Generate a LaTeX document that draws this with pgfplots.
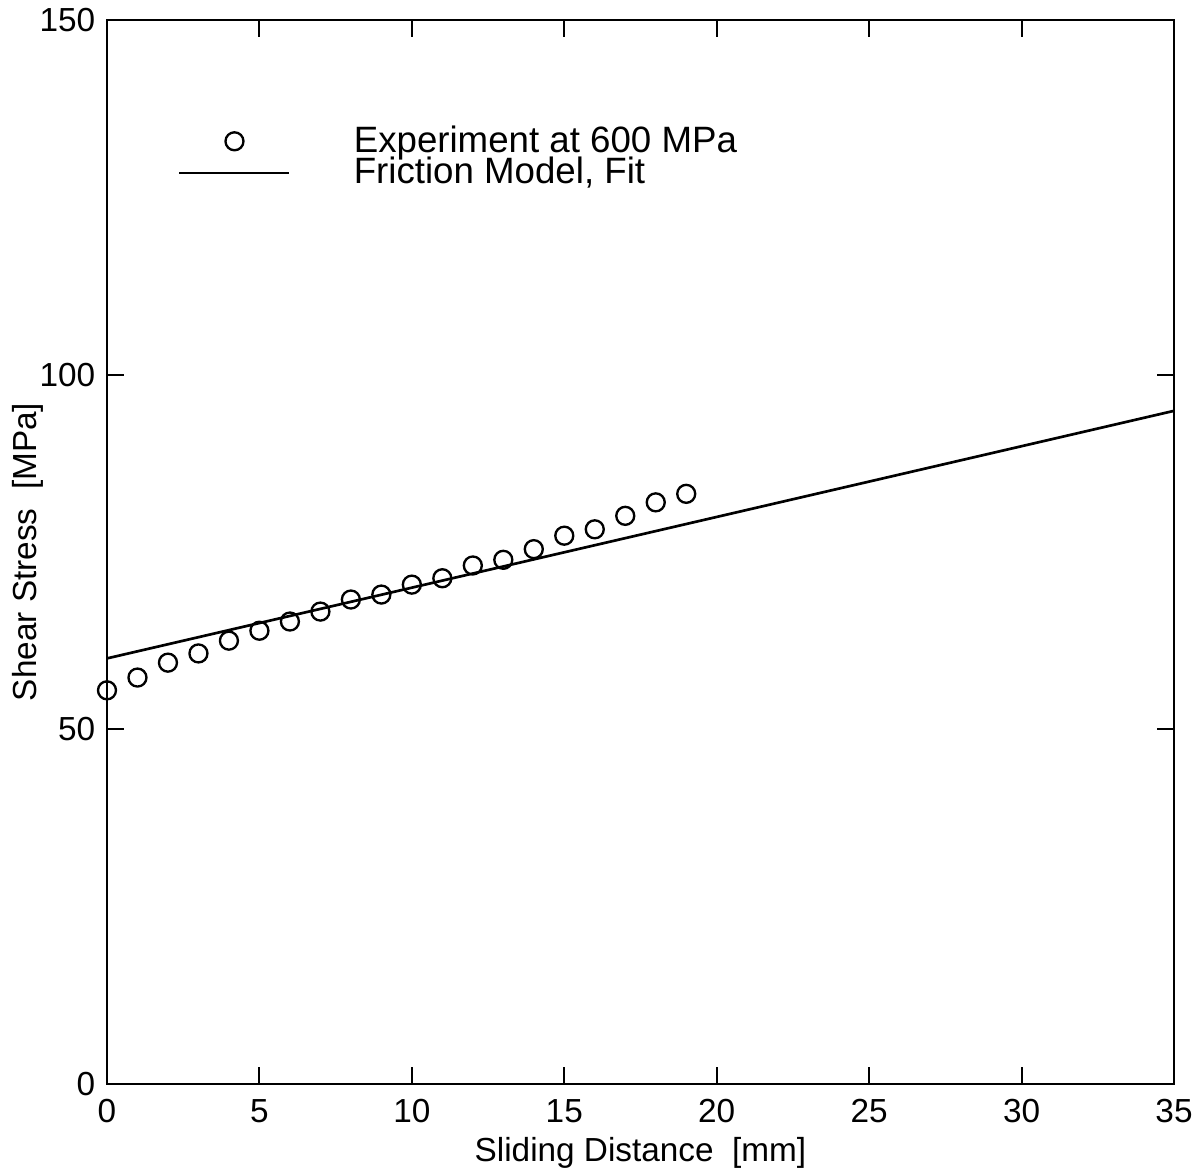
\documentclass[border=0pt]{standalone}
\usepackage{pgfplots}
\pgfplotsset{compat=1.18}
\usepackage{fontspec}
\setmainfont{Liberation Sans}
\begin{document}
\begin{tikzpicture}
\begin{axis}[
  scale only axis,
  width=320.1pt, height=319.2pt,
  xmin=0, xmax=35, ymin=0, ymax=150,
  xtick={0,5,...,35}, ytick={0,50,100,150},
  tick align=inside, tick pos=both,
  major tick length=5pt,
  axis line style={line width=0.8pt},
  every tick/.style={black, line width=0.6pt},
  /pgf/number format/assume math mode=true,
  tick label style={font=\fontsize{10}{12}\selectfont},
  xticklabel style={yshift=-1pt},
  xlabel={Sliding Distance\ \ [mm]},
  ylabel={Shear Stress\ \ [MPa]},
  label style={font=\fontsize{10}{12}\selectfont},
  xlabel style={yshift=2.5pt},
  ylabel style={yshift=-8pt},
  legend style={draw=none, fill=none, at={(0.057,0.914)}, anchor=north west,
    font=\fontsize{11}{10}\selectfont, row sep=-4pt,
    /tikz/every odd column/.append style={column sep=17pt}},
  legend cell align=left,
]
\addplot[only marks, mark=o, mark size=2.7pt, line width=0.7pt,
  legend image code/.code={\draw[mark size=2.7pt, line width=0.7pt] plot[mark=o] coordinates {(16.5pt,0pt)};}]
coordinates {
(0,55.5) (1,57.3) (2,59.4) (3,60.7) (4,62.5) (5,63.9) (6,65.2) (7,66.6)
(8,68.3) (9,69.0) (10,70.4) (11,71.3) (12,73.1) (13,73.9) (14,75.4)
(15,77.3) (16,78.2) (17,80.1) (18,82.0) (19,83.2)
};
\addlegendentry{Experiment at 600 MPa}
\addplot[black, line width=0.8pt,
  legend image code/.code={\draw[line width=0.6pt] (0pt,0pt) -- (33pt,0pt);}]
coordinates {(0,60.0) (35,94.9)};
\addlegendentry{Friction Model, Fit}
\end{axis}
\pgfresetboundingbox
\path (-32.1pt,-25.8pt) rectangle (329.1pt,325.2pt);
\end{tikzpicture}
\end{document}
